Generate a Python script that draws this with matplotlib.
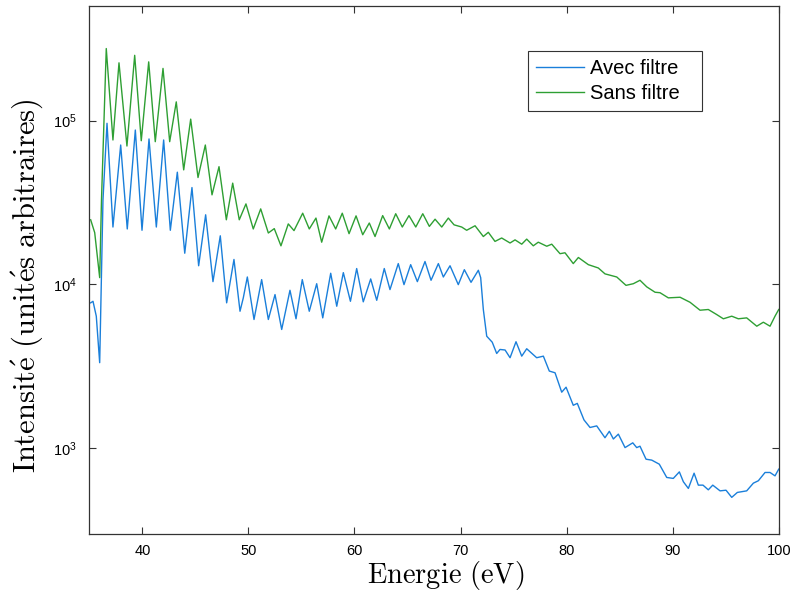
import numpy as np
import matplotlib
matplotlib.use("Agg")
import matplotlib.pyplot as plt
from matplotlib.ticker import NullLocator, LogLocator

plt.rcParams['font.family'] = ['Liberation Sans', 'DejaVu Sans']
plt.rcParams['mathtext.fontset'] = 'cm'

# -------- Data --------
energy_sans = [35.13, 35.51, 35.98, 36.15, 36.60, 37.23, 37.80, 38.55, 39.28, 39.90,
               40.60, 41.22, 41.95, 42.58, 43.20, 43.90, 44.56, 45.25, 45.94, 46.57,
               47.23, 47.92, 48.52, 49.14, 49.77, 50.46, 51.16, 51.88, 52.44, 53.07,
               53.76, 54.30, 55.12, 55.74, 56.37, 56.91, 57.60, 58.23, 58.85, 59.49,
               60.15, 60.78, 61.40, 61.94, 62.66, 63.29, 63.89, 64.51, 65.14, 65.78,
               66.44, 67.06, 67.60, 68.23, 68.85, 69.39, 70.11, 70.58, 71.37, 72.15,
               72.62, 73.25, 73.88, 74.67, 75.14, 75.77, 76.24, 76.86, 77.33, 78.13,
               78.60, 79.38, 79.85, 80.63, 81.11, 82.05, 82.99, 83.62, 84.73, 85.60,
               86.29, 86.92, 87.56, 88.34, 88.81, 89.59, 90.70, 91.64, 92.58, 93.36,
               94.15, 94.78, 95.57, 96.19, 96.98, 97.93, 98.55, 99.18, 99.65, 100.0]
intensity_sans = [24800, 20700, 11000, 32800, 275000, 76100, 225000, 69900, 250000, 75300,
                  228000, 74300, 208000, 74300, 130000, 50000, 102000, 44900, 70900, 35200,
                  52300, 24800, 41500, 24800, 31000, 21800, 28900, 20600, 21900, 17200,
                  23400, 21300, 27200, 21800, 25400, 18100, 26200, 21800, 27200, 20400,
                  26200, 20100, 23700, 19600, 26300, 21800, 27000, 22400, 26300, 22400,
                  27000, 22600, 25000, 22400, 25400, 23100, 22400, 21400, 22800, 19600,
                  20800, 18300, 19200, 17900, 18700, 17600, 18900, 17200, 18100, 17100,
                  17600, 15400, 15600, 13400, 14600, 13200, 12600, 11600, 11100, 9870,
                  10100, 10600, 9660, 8960, 8900, 8280, 8350, 7780, 6960, 7030,
                  6550, 6170, 6400, 6170, 6250, 5560, 5880, 5560, 6400, 7030]

energy_avec = [35.13, 35.35, 35.66, 35.98, 36.29, 36.67, 37.23, 37.96, 38.58, 39.34,
               39.97, 40.63, 41.32, 42.01, 42.64, 43.30, 44.00, 44.68, 45.31, 45.97,
               46.66, 47.35, 47.95, 48.64, 49.21, 49.52, 49.90, 50.53, 51.25, 51.88,
               52.51, 53.14, 53.92, 54.49, 55.08, 55.74, 56.44, 57.01, 57.76, 58.33,
               58.95, 59.62, 60.21, 60.83, 61.53, 62.10, 62.81, 63.35, 64.13, 64.67,
               65.30, 65.93, 66.65, 67.22, 67.91, 68.38, 69.01, 69.79, 70.36, 70.99,
               71.68, 71.90, 72.15, 72.47, 72.99, 73.41, 73.72, 74.20, 74.67, 75.23,
               75.77, 76.24, 77.18, 77.81, 78.37, 78.91, 79.54, 79.95, 80.63, 81.01,
               81.64, 82.21, 82.84, 83.62, 84.03, 84.41, 84.88, 85.51, 86.24, 86.61,
               86.92, 87.49, 88.03, 88.74, 89.44, 90.06, 90.63, 91.01, 91.48, 92.02,
               92.42, 92.86, 93.36, 93.78, 94.47, 95.03, 95.57, 96.10, 96.98, 97.61,
               98.08, 98.71, 99.18, 99.65, 100.0]
intensity_avec = [7720, 7890, 6400, 3330, 32800, 96200, 22400, 70900, 21800, 87500,
                  21400, 77200, 22400, 76100, 21400, 48400, 15500, 39000, 13000, 26600,
                  10400, 19800, 7720, 14200, 6860, 8280, 11100, 6110, 10700, 6110,
                  8670, 5310, 9210, 6170, 10700, 6860, 10100, 6250, 11700, 7360,
                  11800, 7890, 12500, 7830, 10800, 8000, 12500, 9300, 13400, 9970,
                  13200, 10400, 13800, 10600, 13400, 11100, 13000, 9970, 12300, 10300,
                  12200, 11000, 7030, 4830, 4440, 3790, 4010, 3980, 3570, 4470,
                  3650, 4050, 3570, 3650, 2960, 2890, 2200, 2360, 1830, 1880,
                  1490, 1340, 1370, 1160, 1270, 1140, 1220, 1010, 1080, 1010,
                  1030, 858, 847, 800, 664, 655, 718, 625, 569, 705,
                  596, 596, 558, 596, 550, 555, 502, 538, 550, 613,
                  634, 712, 712, 679, 746]

series_labels = ["Avec filtre", "Sans filtre"]
x_ticks = [40, 50, 60, 70, 80, 90, 100]

# -------- Plot --------
fig = plt.figure(figsize=(7.93, 5.93), dpi=100)
ax = fig.add_axes([0.1126, 0.0995, 0.8694, 0.8904])

ax.plot(energy_avec, intensity_avec, color='#1a7fda', lw=1.0, label=series_labels[0])
ax.plot(energy_sans, intensity_sans, color='#2e9f33', lw=1.0, label=series_labels[1])

ax.set_yscale('log')
ax.set_xlim(35, 100)
ax.set_ylim(300, 5e5)
ax.set_xticks(x_ticks)
ax.yaxis.set_major_locator(LogLocator(base=10, numticks=10))
ax.yaxis.set_minor_locator(NullLocator())

ax.tick_params(direction='in', length=5, width=0.8, color='#333333',
               top=True, right=True, labelsize=10.5)
ax.tick_params(axis='y', pad=9)
ax.tick_params(axis='x', pad=7)
for sp in ax.spines.values():
    sp.set_color('#333333')
    sp.set_linewidth(0.9)

ax.set_xlabel(r'$\mathrm{Energie\ (eV)}$', fontsize=20.5)
ax.xaxis.set_label_coords(0.517, -0.047)
ax.set_ylabel(r'$\mathrm{Intensit\acute{e}\ (unit\acute{e}s\ arbitraires)}$', fontsize=22)
ax.yaxis.set_label_coords(-0.064, 0.47)

leg = ax.legend(loc='upper left', bbox_to_anchor=(0.636, 0.805, 0.2524, 0.11),
                mode='expand', borderaxespad=0, fontsize=14.5,
                fancybox=False, framealpha=1, edgecolor='#333333',
                handlelength=2.4, borderpad=0.4, labelspacing=0.3, handletextpad=0.3)
leg.get_frame().set_linewidth(0.8)

fig.savefig('out.png', dpi=100)
